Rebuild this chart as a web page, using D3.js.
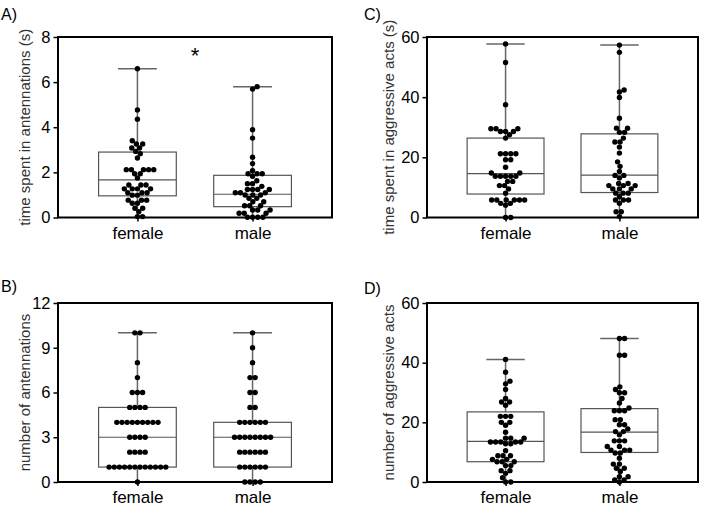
<!DOCTYPE html>
<html><head><meta charset="utf-8">
<script src="https://cdn.jsdelivr.net/npm/d3@7"></script>
<style>body{margin:0;background:#fff}svg{display:block}</style>
</head><body><svg id="c" width="702" height="509"></svg>
<script>
// ---------- DATA ----------
const groups = ["female", "male"];

// A) time spent in antennations (s)
const antTimeFemale = [6.59,4.77,4.36,3.40,3.26,3.26,3.08,3.08,2.93,2.83,2.64,2.12,2.12,2.12,2.12,2.12,1.94,1.94,1.75,1.44,1.44,1.44,1.27,1.27,1.27,1.27,1.10,1.10,1.10,0.99,0.99,0.77,0.77,0.77,0.63,0.63,0.41,0.41,0.26,0.04,0.04];
const antTimeMale = [5.80,5.69,3.89,3.52,2.67,2.39,2.07,1.94,1.94,1.94,1.83,1.63,1.50,1.50,1.38,1.24,1.24,1.24,1.24,1.10,1.10,1.10,1.00,1.00,1.00,0.85,0.85,0.70,0.70,0.52,0.52,0.52,0.33,0.33,0.33,0.19,0.19,0.19,0.01,0.01,0.01,0.01];
const antTimeBox = [[0,0.96,1.67,2.90,6.59],[0,0.48,1.03,1.87,5.80]];
const antTimeTicks = [0,2,4,6,8];

// B) number of antennations
const antNumFemale = [10,10,8,7,6,6,6,5,5,5,5,4,4,4,4,4,4,4,4,4,3,3,3,3,2,2,2,2,1,1,1,1,1,1,1,1,1,1,1,1,0];
const antNumMale = [10,9,8,7,7,6,6,5,5,4,4,4,4,4,4,3,3,3,3,3,3,3,3,2,2,2,2,2,2,1,1,1,1,1,1,0,0,0,0];
const antNumBox = [[0,1,3,5,10],[0,1,3,4,10]];
const antNumTicks = [0,3,6,9,12];

// C) time spent in aggressive acts (s)
const aggTimeFemale = [57.7,51.5,37.5,29.5,29.5,29.5,28.6,28.6,28.6,27.5,26.4,21.2,21.2,21.2,21.2,19.2,19.2,16.7,14.8,14.8,13.7,13.7,13.7,13.7,13.7,12.0,12.0,10.6,10.6,9.5,8.1,5.8,5.8,5.8,5.8,5.8,5.8,4.7,4.7,4.1,0,0];
const aggTimeMale = [57.3,54.9,42.4,41.7,39.9,33.0,29.7,29.7,28.3,28.3,26.4,25.1,25.1,23.4,21.4,18.5,17.0,15.3,14.0,14.0,13.1,11.3,11.3,10.6,10.6,10.6,9.5,9.5,9.5,8.1,8.1,8.1,6.9,5.8,5.8,5.8,4.7,1.9,1.9,0.3];
const aggTimeBox = [[0,7.8,14.6,26.4,57.7],[0.3,8.3,14.1,27.8,57.3]];
const aggTimeTicks = [0,20,40,60];

// D) number of aggressive acts
const aggNumFemale = [41.1,36.8,33.8,32.9,31.0,28.0,26.8,26.8,25.7,22.0,22.0,22.0,20.0,20.0,19.0,16.7,14.7,14.7,14.7,13.4,13.4,13.4,13.4,13.4,12.8,12.8,10.5,8.8,8.8,8.8,7.6,7.6,6.8,6.8,6.8,5.5,5.5,3.8,3.8,2.9,1.4,0,0];
const aggNumMale = [48.1,48.1,42.5,42.5,31.9,31.0,29.9,29.9,28.0,26.5,24.8,23.9,23.9,23.9,20.9,20.9,19.2,19.2,17.8,16.9,16.9,15.8,13.8,13.8,13.8,11.9,11.9,10.7,10.7,10.7,9.7,9.7,8.0,6.0,6.0,4.6,4.6,3.5,1.8,1.8,0.7,0.7,0];
const aggNumBox = [[0,6.8,13.6,23.5,41.1],[0,9.9,16.7,24.6,48.1]];
const aggNumTicks = [0,20,40,60];

// ---------- LAYOUT ----------
const panels = [
  {tag:"A)", title:"time spent in  antennations (s)", x0:58, x1:332, y0:37, y1:217.5, ticks:antTimeTicks, series:[antTimeFemale, antTimeMale], box:antTimeBox, star:true, lx:1, ly:20, tx:25},
  {tag:"C)", title:"time spent in aggressive acts (s)", x0:427, x1:698, y0:37, y1:217.5, ticks:aggTimeTicks, series:[aggTimeFemale, aggTimeMale], box:aggTimeBox, lx:364, ly:20, tx:389},
  {tag:"B)", title:"number of antennations", x0:58, x1:332, y0:303, y1:482, ticks:antNumTicks, series:[antNumFemale, antNumMale], box:antNumBox, lx:1, ly:292, tx:25},
  {tag:"D)", title:"number of aggressive acts", x0:427, x1:698, y0:303, y1:482, ticks:aggNumTicks, series:[aggNumFemale, aggNumMale], box:aggNumBox, lx:364, ly:294, tx:389}
];

const svg = d3.select("#c");
const FONT = "'Liberation Sans', Arial, Helvetica, sans-serif";
const R = 2.7, D = 5.15;

function swarm(values, y) {
  const allInt = values.every(v => Number.isInteger(v));
  if (allInt) {
    const byVal = d3.group(values, v => v);
    const out = [];
    byVal.forEach((arr, v) => {
      arr.forEach((_, i) => out.push({v, py: y(v), dx: (i - (arr.length - 1) / 2) * D}));
    });
    return out;
  }
  const placed = [];
  const sorted = values.map(v => ({v, py: y(v)})).sort((a,b) => a.v - b.v);
  for (const p of sorted) {
    const blocks = [];
    for (const q of placed) {
      const dy = Math.abs(q.py - p.py);
      if (dy < D) { const h = Math.sqrt(D*D - dy*dy); blocks.push([q.dx - h, q.dx + h]); }
    }
    const cands = [0];
    blocks.forEach(b => { cands.push(b[0], b[1]); });
    cands.sort((a,b) => Math.abs(a) - Math.abs(b) || b - a);
    let best = 0;
    for (const c of cands) {
      if (blocks.every(b => c <= b[0] + 1e-6 || c >= b[1] - 1e-6)) { best = c; break; }
    }
    p.dx = best; placed.push(p);
  }
  return placed;
}

panels.forEach(P => {
  const g = svg.append("g");
  const maxT = P.ticks[P.ticks.length - 1];
  const y = d3.scaleLinear().domain([0, maxT]).range([P.y1, P.y0]);
  const x = d3.scalePoint().domain(groups).range([P.x0, P.x1]).padding(0.69);
  const step = x.step();
  const bw = step * 0.675;

  // y axis
  const ya = g.append("g").attr("transform", `translate(${P.x0},0)`)
    .call(d3.axisLeft(y).tickValues(P.ticks).tickSize(4.5).tickPadding(3));
  ya.select(".domain").remove();
  ya.selectAll("line").attr("stroke", "#000").attr("stroke-width", 1.5);
  ya.selectAll("text").attr("font-family", FONT).attr("font-size", 16.5).attr("fill", "#000");

  // x axis
  const xa = g.append("g").attr("transform", `translate(0,${P.y1})`)
    .call(d3.axisBottom(x).tickSize(4).tickPadding(5));
  xa.select(".domain").remove();
  xa.selectAll("line").attr("stroke", "#000").attr("stroke-width", 1.5);
  xa.selectAll("text").attr("font-family", FONT).attr("font-size", 17).attr("fill", "#000");

  // boxes
  groups.forEach((grp, i) => {
    const cx = x(grp);
    const [mn, q1, md, q3, mx] = P.box[i];
    g.append("line").attr("x1", cx).attr("x2", cx).attr("y1", y(mx)).attr("y2", y(mn))
      .attr("stroke", "#666").attr("stroke-width", 1.5);
    g.append("line").attr("x1", cx - bw/4).attr("x2", cx + bw/4).attr("y1", y(mx)).attr("y2", y(mx))
      .attr("stroke", "#666").attr("stroke-width", 1.5);
    g.append("rect").attr("x", cx - bw/2).attr("width", bw).attr("y", y(q3)).attr("height", y(q1) - y(q3))
      .attr("fill", "#fff").attr("stroke", "#555").attr("stroke-width", 1.2);
    g.append("line").attr("x1", cx - bw/2).attr("x2", cx + bw/2).attr("y1", y(md)).attr("y2", y(md))
      .attr("stroke", "#555").attr("stroke-width", 1.2);
    const pts = swarm(P.series[i], y);
    g.selectAll(null).data(pts).enter().append("circle")
      .attr("cx", d => cx + d.dx).attr("cy", d => d.py).attr("r", R).attr("fill", "#000");
  });

  // frame
  g.append("path").attr("d", `M${P.x0},${P.y1}H${P.x1}V${P.y0}H${P.x0}Z`)
    .attr("fill", "none").attr("stroke", "#000").attr("stroke-width", 2);

  // labels
  g.append("text").attr("x", P.lx).attr("y", P.ly).text(P.tag)
    .attr("font-family", FONT).attr("font-size", 16).attr("fill", "#000");
  g.append("text").attr("transform", `translate(${P.tx},${(P.y0 + P.y1)/2}) rotate(-90)`)
    .attr("text-anchor", "middle").attr("dy", "0.35em").text(P.title)
    .attr("font-family", FONT).attr("font-size", 15).attr("fill", "#333");
  if (P.star) {
    g.append("text").attr("x", (P.x0 + P.x1)/2).attr("y", y(6.85)).attr("text-anchor", "middle")
      .attr("font-family", FONT).attr("font-size", 22).attr("fill", "#000").text("*");
  }
});
</script></body></html>
